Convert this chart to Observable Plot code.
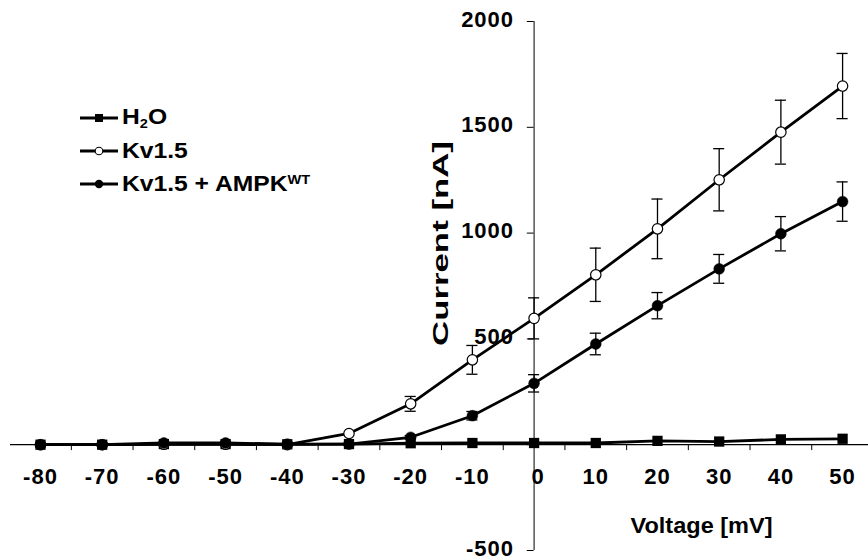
<!DOCTYPE html>
<html><head><meta charset="utf-8">
<script src="https://cdn.jsdelivr.net/npm/d3@7"></script>
<script src="https://cdn.jsdelivr.net/npm/@observablehq/plot@0.6"></script>
<style>
body{margin:0;background:#fff;}
#wrap{position:relative;width:868px;height:560px;font-family:"Liberation Sans",Arial,sans-serif;}
#legend{position:absolute;left:80px;top:101px;font-weight:bold;font-size:22px;color:#000;}
.row{display:flex;align-items:center;height:33px;}
.row svg{width:38px;height:14px;margin-right:4px;flex:none;}
.lab{display:inline-block;transform:scaleX(1.12);transform-origin:left center;white-space:nowrap;}
.lab sub,.lab sup{font-size:13px;}
.lab sub{vertical-align:-4px;}
.lab sup{vertical-align:7px;}
</style></head><body><div id="wrap"><div id="legend"></div></div>
<script>
// ---- data ----
const voltages = [-80,-70,-60,-50,-40,-30,-20,-10,0,10,20,30,40,50];
const h2o      = [0,0,3,3,2,3,7,8,8,8,18,15,25,28];
const kv15     = [0,0,2,2,0,53,193,401,597,803,1020,1252,1477,1695];
const kv15Err  = [0,0,0,0,0,0,35,68,97,126,141,147,151,154];
const ampk     = [0,0,8,8,3,3,35,137,290,476,657,831,997,1149];
const ampkErr  = [0,0,0,0,0,0,8,20,41,51,62,68,81,93];
const seriesNames = ["H\u2082O","Kv1.5","Kv1.5 + AMPK\u1D42\u1D40"];
const yTicks = [2000,1500,1000,500,0,-500];
const yTickLabels = [2000,1500,1000,500,-500];
const xTickPos = voltages.slice(0,-1).map(v => v + 5);
const xTitle = "Voltage [mV]";
const yTitle = "Current [nA]";

const rowsH = voltages.map((v,i)=>({x:v,y:h2o[i]}));
const rowsK = voltages.map((v,i)=>({x:v,y:kv15[i],e:kv15Err[i]}));
const rowsA = voltages.map((v,i)=>({x:v,y:ampk[i],e:ampkErr[i]}));
const errK = rowsK.filter(d=>d.e>0);
const errA = rowsA.filter(d=>d.e>0);
const cap = 0.9;

function errMarks(rows){
  return [
    Plot.ruleX(rows,{x:"x",y1:d=>d.y-d.e,y2:d=>d.y+d.e,stroke:"#000",strokeWidth:1.3}),
    Plot.ruleY(rows,{y:d=>d.y+d.e,x1:d=>d.x-cap,x2:d=>d.x+cap,stroke:"#000",strokeWidth:1.3}),
    Plot.ruleY(rows,{y:d=>d.y-d.e,x1:d=>d.x-cap,x2:d=>d.x+cap,stroke:"#000",strokeWidth:1.3})
  ];
}

const chart = Plot.plot({
  width:868, height:560,
  marginLeft:10, marginRight:0, marginTop:21, marginBottom:10,
  x:{domain:[-84.86,54.2], axis:null},
  y:{domain:[-500,2000], axis:null},
  style:{fontFamily:"'Liberation Sans', Arial, sans-serif", background:"#fff", color:"#000"},
  marks:[
    Plot.ruleY([0],{stroke:"#000",strokeWidth:1.3}),
    Plot.ruleX([0],{stroke:"#000",strokeWidth:1}),
    Plot.ruleX(xTickPos,{y1:0,y2:-28,stroke:"#000",strokeWidth:1}),
    Plot.ruleY(yTicks,{x1:-1.1,x2:0,stroke:"#000",strokeWidth:1}),
    Plot.text(yTickLabels,{x:0,y:d=>d,dx:-20,dy:-2,textAnchor:"end",text:d=>String(d),fontSize:22,fontWeight:"bold",fill:"#000"}),
    Plot.text(voltages.filter(v=>v!==0),{x:d=>d,y:0,dy:32,text:d=>String(d),fontSize:22,fontWeight:"bold",fill:"#000"}),
    Plot.text(voltages.filter(v=>v===0),{x:d=>d,y:0,dx:4,dy:32,text:d=>String(d),fontSize:22,fontWeight:"bold",fill:"#000"}),
    Plot.text([xTitle],{frameAnchor:"bottom",textAnchor:"middle",lineAnchor:"middle",dx:262,dy:-25,fontSize:22,fontWeight:"bold",fill:"#000"}),
    Plot.text([yTitle],{frameAnchor:"top-left",textAnchor:"middle",lineAnchor:"middle",dx:430,dy:222,rotate:-90,fontSize:22,fontWeight:"bold",fill:"#000"}),
    // H2O
    Plot.line(rowsH,{x:"x",y:"y",stroke:"#000",strokeWidth:2.8}),
    Plot.dot(rowsH,{x:"x",y:"y",symbol:"square",r:5.8,fill:"#000",stroke:"none"}),
    // Kv1.5
    ...errMarks(errK),
    Plot.line(rowsK,{x:"x",y:"y",stroke:"#000",strokeWidth:2.8}),
    Plot.dot(rowsK,{x:"x",y:"y",r:5.2,fill:"#fff",stroke:"#000",strokeWidth:1.2}),
    // Kv1.5 + AMPK
    ...errMarks(errA),
    Plot.line(rowsA,{x:"x",y:"y",stroke:"#000",strokeWidth:2.8}),
    Plot.dot(rowsA,{x:"x",y:"y",r:5.4,fill:"#000",stroke:"#000",strokeWidth:0.5})
  ]
});

const wrap = document.getElementById("wrap");
wrap.insertBefore(chart, wrap.firstChild);

function stretch(t, target){
  const bb = t.getBBox();
  if (!bb.width) return;
  const sx = target / bb.width;
  const cx = bb.x + bb.width/2, cy = bb.y + bb.height/2;
  const tr = t.getAttribute("transform") || "";
  t.setAttribute("transform", tr + ` translate(${cx},${cy}) scale(${sx},1) translate(${-cx},${-cy})`);
}
const tickStrings = new Set([...voltages, ...yTickLabels].map(String));
chart.querySelectorAll("text").forEach(t=>{
  const s = t.textContent;
  if (s === xTitle) stretch(t, 142);
  else if (s === yTitle) stretch(t, 205);
  else if (tickStrings.has(s)) t.setAttribute("letter-spacing","1");
});

// legend
const legend = document.getElementById("legend");
const sym = [
  '<rect x="15" y="3" width="8" height="8" fill="#000"/>',
  '<circle cx="19" cy="7" r="3.8" fill="#fff" stroke="#000" stroke-width="1.1"/>',
  '<circle cx="19" cy="7" r="4.2" fill="#000"/>'
];
const labHTML = ['H<sub>2</sub>O','Kv1.5','Kv1.5 + AMPK<sup>WT</sup>'];
seriesNames.forEach((n,i)=>{
  const row = document.createElement("div");
  row.className="row";
  row.setAttribute("aria-label", n);
  row.innerHTML = '<svg viewBox="0 0 38 14"><line x1="0" y1="7" x2="38" y2="7" stroke="#000" stroke-width="3"/>'+sym[i]+'</svg><span class="lab">'+labHTML[i]+'</span>';
  legend.appendChild(row);
});
</script>
</body></html>
